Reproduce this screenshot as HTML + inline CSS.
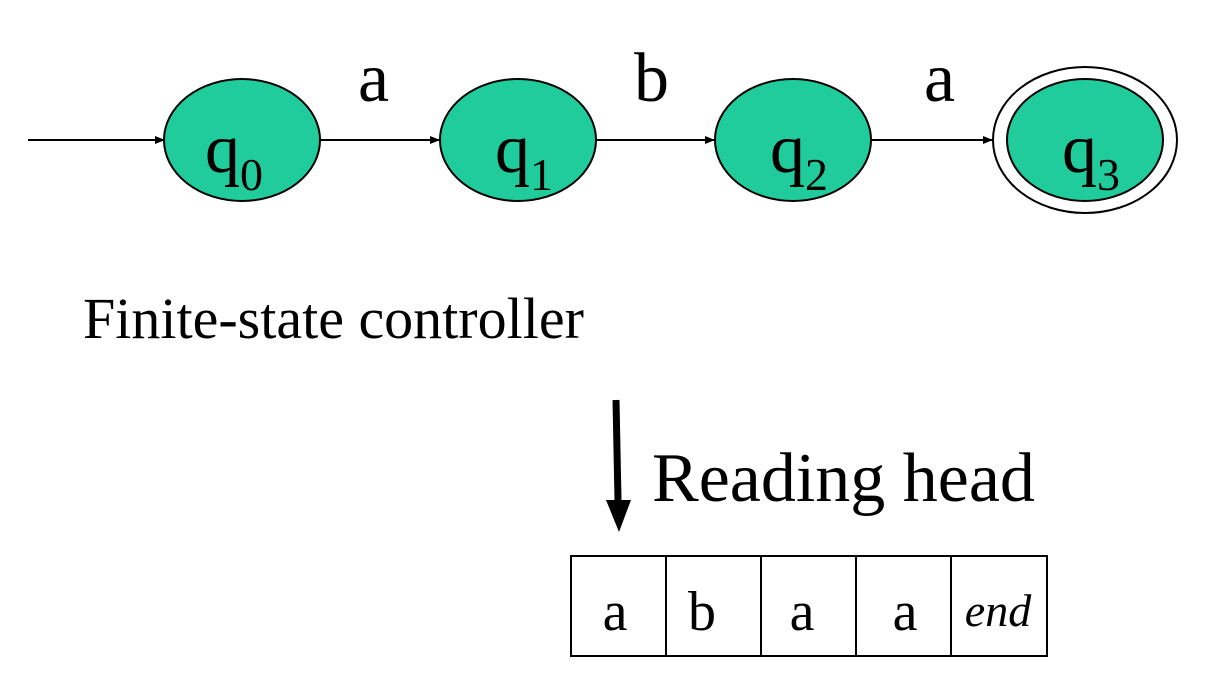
<!DOCTYPE html>
<html><head><style>body{margin:0;background:#fff}</style></head><body>
<svg width="1207" height="678" viewBox="0 0 1207 678" xmlns="http://www.w3.org/2000/svg" font-family="Liberation Serif, serif">
<defs><marker id="ah" markerWidth="10" markerHeight="8" refX="9" refY="4" orient="auto" markerUnits="userSpaceOnUse"><path d="M0,0L10,4L0,8z" fill="#000"/></marker></defs>
<g stroke="#000" stroke-width="2" fill="none">
<line x1="28" y1="140" x2="164" y2="140" marker-end="url(#ah)"/>
<line x1="320" y1="140" x2="439" y2="140" marker-end="url(#ah)"/>
<line x1="597" y1="140" x2="714" y2="140" marker-end="url(#ah)"/>
<line x1="872" y1="140" x2="992" y2="140" marker-end="url(#ah)"/>
</g>
<g stroke="#000" stroke-width="2" fill="#20cc9c">
<ellipse cx="242" cy="140" rx="78" ry="61"/>
<ellipse cx="518" cy="140" rx="78" ry="61"/>
<ellipse cx="793" cy="140" rx="78" ry="61"/>
<ellipse cx="1085" cy="140" rx="92" ry="73" fill="#fff"/>
<ellipse cx="1085" cy="140" rx="78" ry="61"/>
</g>
<g font-size="70" fill="#000">
<text x="205" y="172">q<tspan font-size="46" dy="18">0</tspan></text>
<text x="495" y="172">q<tspan font-size="46" dy="18">1</tspan></text>
<text x="770" y="172">q<tspan font-size="46" dy="18">2</tspan></text>
<text x="1062" y="172">q<tspan font-size="46" dy="18">3</tspan></text>
<text x="358" y="101">a</text>
<text x="634" y="101">b</text>
<text x="924" y="101">a</text>
<text x="652" y="501">Reading head</text>
</g>
<text x="83" y="338" font-size="58">Finite-state controller</text>
<line x1="616" y1="400" x2="618" y2="500" stroke="#000" stroke-width="7"/>
<path d="M606,500L631,500L619,532z" fill="#000"/>
<g stroke="#000" stroke-width="2" fill="none">
<rect x="571" y="556" width="476" height="100"/>
<line x1="666" y1="556" x2="666" y2="656"/>
<line x1="761" y1="556" x2="761" y2="656"/>
<line x1="856" y1="556" x2="856" y2="656"/>
<line x1="951" y1="556" x2="951" y2="656"/>
</g>
<g font-size="56" fill="#000" text-anchor="middle">
<text x="615" y="630">a</text>
<text x="702" y="630">b</text>
<text x="802" y="630">a</text>
<text x="905" y="630">a</text>
<text x="998" y="626" font-size="46" font-style="italic">end</text>
</g>
</svg>
</body></html>
